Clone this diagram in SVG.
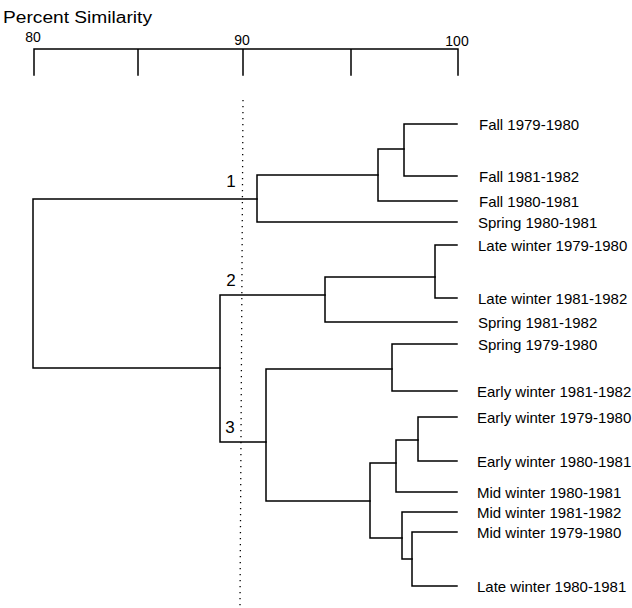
<svg xmlns="http://www.w3.org/2000/svg" width="632" height="608" viewBox="0 0 632 608">
<style>
  .bg { fill: #ffffff; }
  .ln { fill: none; stroke: #000; stroke-width: 1.5; stroke-linecap: square; }
  .dot { fill: none; stroke: #000; stroke-width: 1.3; stroke-dasharray: 1.3 4.7; }
  .lbl { font-family: "Liberation Sans", Arial, Helvetica, sans-serif; font-size: 15px; fill: #000; }
  .ax { font-family: "Liberation Sans", Arial, Helvetica, sans-serif; font-size: 14px; fill: #000; text-anchor: middle; }
  .num { font-family: "Liberation Sans", Arial, Helvetica, sans-serif; font-size: 17px; fill: #000; text-anchor: middle; }
  .title { font-family: "Liberation Sans", Arial, Helvetica, sans-serif; font-size: 16px; fill: #000; }
</style>
<rect class="bg" x="0" y="0" width="632" height="608"/>

<g id="axis">
  <text class="title" x="3" y="23" textLength="149" lengthAdjust="spacingAndGlyphs">Percent Similarity</text>
  <text class="ax" x="33" y="42">80</text>
  <text class="ax" x="242" y="45">90</text>
  <text class="ax" x="457" y="46">100</text>
  <path class="ln" d="M34 75 V49 H458 V75 M138 49 V75 M243 49 V75 M351 49 V75"/>
</g>

<g id="threshold">
  <line class="dot" x1="243" y1="100" x2="240" y2="606"/>
</g>

<g id="connectors">
  <path class="ln" d="M257 199 H33 V368 H220"/>
  <path class="ln" d="M378 175 H257 V222 H457"/>
  <path class="ln" d="M404 149 H378 V201 H457"/>
  <path class="ln" d="M457 124 H404 V176 H457"/>
  <path class="ln" d="M325 295 H220 V442 H266"/>
  <path class="ln" d="M435 277 H325 V322 H457"/>
  <path class="ln" d="M457 245 H435 V298 H457"/>
  <path class="ln" d="M392 369 H266 V501 H370"/>
  <path class="ln" d="M457 344 H392 V391 H457"/>
  <path class="ln" d="M396 463 H370 V538 H402"/>
  <path class="ln" d="M418 440 H396 V492 H457"/>
  <path class="ln" d="M457 417 H418 V461 H457"/>
  <path class="ln" d="M457 512 H402 V559 H412"/>
  <path class="ln" d="M457 532 H412 V586 H457"/>
</g>

<g id="cluster-1"><text class="num" x="231" y="187">1</text></g>
<g id="cluster-2"><text class="num" x="231" y="286">2</text></g>
<g id="cluster-3"><text class="num" x="230" y="433">3</text></g>

<g id="leaf-fall-1979"><text class="lbl" x="479" y="130">Fall 1979-1980</text></g>
<g id="leaf-fall-1981"><text class="lbl" x="479" y="182">Fall 1981-1982</text></g>
<g id="leaf-fall-1980"><text class="lbl" x="479" y="207">Fall 1980-1981</text></g>
<g id="leaf-spring-1980"><text class="lbl" x="478" y="228">Spring 1980-1981</text></g>
<g id="leaf-late-1979"><text class="lbl" x="478" y="251">Late winter 1979-1980</text></g>
<g id="leaf-late-1981"><text class="lbl" x="478" y="304">Late winter 1981-1982</text></g>
<g id="leaf-spring-1981"><text class="lbl" x="478" y="328">Spring 1981-1982</text></g>
<g id="leaf-spring-1979"><text class="lbl" x="478" y="350">Spring 1979-1980</text></g>
<g id="leaf-early-1981"><text class="lbl" x="477" y="397">Early winter 1981-1982</text></g>
<g id="leaf-early-1979"><text class="lbl" x="477" y="423">Early winter 1979-1980</text></g>
<g id="leaf-early-1980"><text class="lbl" x="477" y="467">Early winter 1980-1981</text></g>
<g id="leaf-mid-1980"><text class="lbl" x="477" y="498">Mid winter 1980-1981</text></g>
<g id="leaf-mid-1981"><text class="lbl" x="477" y="518">Mid winter 1981-1982</text></g>
<g id="leaf-mid-1979"><text class="lbl" x="477" y="538">Mid winter 1979-1980</text></g>
<g id="leaf-late-1980"><text class="lbl" x="477" y="592">Late winter 1980-1981</text></g>
</svg>
